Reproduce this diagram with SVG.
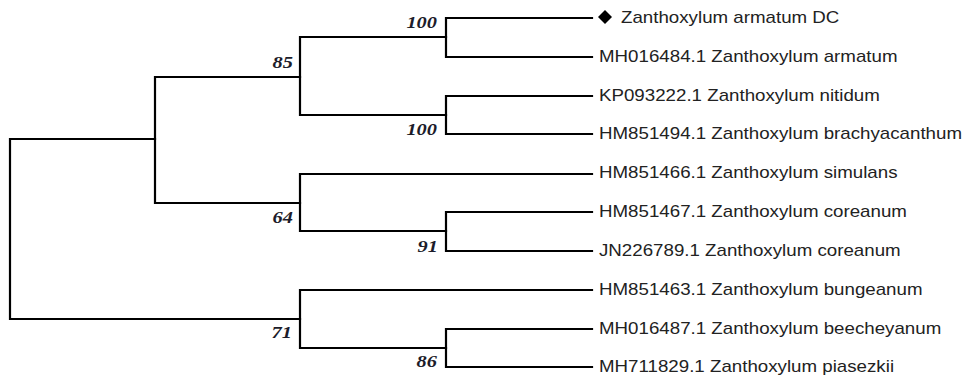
<svg xmlns="http://www.w3.org/2000/svg" width="967" height="376" viewBox="0 0 967 376">
  <style>
    .br { fill: none; stroke: #000; stroke-width: 2.2; stroke-linecap: square; stroke-linejoin: miter; }
    .leaf { font-family: "Liberation Sans", Arial, sans-serif; font-size: 16px; fill: #222; }
    .bs { font-family: "Liberation Serif", "Times New Roman", serif; font-size: 17px; font-weight: bold; font-style: italic; fill: #1c1c2a; text-anchor: end; }
  </style>
  <rect width="967" height="376" fill="#fff"/>
  <g id="connectors">
    <!-- root -->
    <path class="br" d="M155,139 H10 V319 H300"/>
    <!-- upper clade -->
    <path class="br" d="M300,77 H155 V203 H300"/>
    <!-- node 85 -->
    <path class="br" d="M446,37 H300 V115 H446"/>
    <!-- node 100 (armatum) -->
    <path class="br" d="M592,18 H446 V57 H592"/>
    <!-- node 100 (nitidum / brachyacanthum) -->
    <path class="br" d="M592,96 H446 V134 H592"/>
    <!-- node 64 -->
    <path class="br" d="M592,174 H300 V231 H446"/>
    <!-- node 91 -->
    <path class="br" d="M592,212 H446 V251 H592"/>
    <!-- node 71 -->
    <path class="br" d="M592,290 H300 V348 H446"/>
    <!-- node 86 -->
    <path class="br" d="M592,329 H446 V367 H592"/>
  </g>
  <g id="support">
    <text class="bs" transform="translate(437,28) scale(1.2,1)">100</text>
    <text class="bs" transform="translate(293,68) scale(1.2,1)">85</text>
    <text class="bs" transform="translate(437,135) scale(1.2,1)">100</text>
    <text class="bs" transform="translate(293,223) scale(1.2,1)">64</text>
    <text class="bs" transform="translate(438,252) scale(1.2,1)">91</text>
    <text class="bs" transform="translate(292,338) scale(1.2,1)">71</text>
    <text class="bs" transform="translate(437,367) scale(1.2,1)">86</text>
  </g>
  <g id="leaf-armatum-dc">
    <polygon points="605,10 612,17 605,24 598,17" fill="#000"/>
    <text class="leaf" transform="translate(621,23) scale(1.17,1)">Zanthoxylum armatum DC</text>
  </g>
  <g id="leaf-mh016484"><text class="leaf" transform="translate(599,62) scale(1.17,1)">MH016484.1 Zanthoxylum armatum</text></g>
  <g id="leaf-kp093222"><text class="leaf" transform="translate(599,101) scale(1.17,1)">KP093222.1 Zanthoxylum nitidum</text></g>
  <g id="leaf-hm851494"><text class="leaf" transform="translate(599,139) scale(1.17,1)">HM851494.1 Zanthoxylum brachyacanthum</text></g>
  <g id="leaf-hm851466"><text class="leaf" transform="translate(599,178) scale(1.17,1)">HM851466.1 Zanthoxylum simulans</text></g>
  <g id="leaf-hm851467"><text class="leaf" transform="translate(599,217) scale(1.17,1)">HM851467.1 Zanthoxylum coreanum</text></g>
  <g id="leaf-jn226789"><text class="leaf" transform="translate(599,256) scale(1.17,1)">JN226789.1 Zanthoxylum coreanum</text></g>
  <g id="leaf-hm851463"><text class="leaf" transform="translate(599,295) scale(1.17,1)">HM851463.1 Zanthoxylum bungeanum</text></g>
  <g id="leaf-mh016487"><text class="leaf" transform="translate(599,334) scale(1.17,1)">MH016487.1 Zanthoxylum beecheyanum</text></g>
  <g id="leaf-mh711829"><text class="leaf" transform="translate(599,372) scale(1.17,1)">MH711829.1 Zanthoxylum piasezkii</text></g>
</svg>
